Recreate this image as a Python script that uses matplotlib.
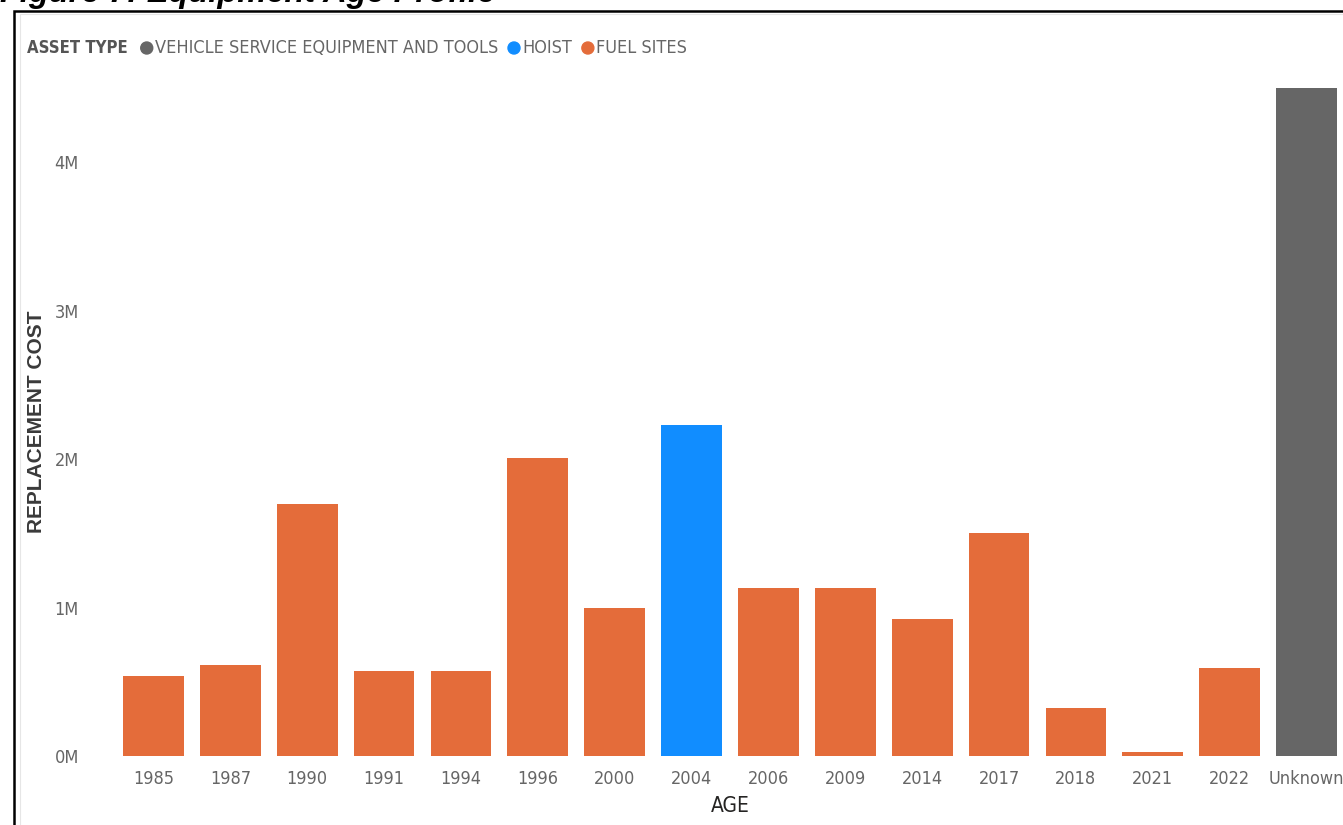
import matplotlib
matplotlib.use("Agg")
import matplotlib.pyplot as plt
from matplotlib import font_manager as fm
from matplotlib.patches import Rectangle, Ellipse
from matplotlib.ticker import FuncFormatter

# data
ages = ["1985", "1987", "1990", "1991", "1994", "1996", "2000", "2004",
        "2006", "2009", "2014", "2017", "2018", "2021", "2022", "Unknown"]
cost_m = [0.54, 0.61, 1.70, 0.57, 0.57, 2.01, 1.00, 2.23,
          1.13, 1.13, 0.92, 1.50, 0.32, 0.03, 0.59, 4.50]
asset_type = ["FUEL SITES"] * 7 + ["HOIST"] + ["FUEL SITES"] * 7 + ["VEHICLE SERVICE EQUIPMENT AND TOOLS"]

legend_order = ["VEHICLE SERVICE EQUIPMENT AND TOOLS", "HOIST", "FUEL SITES"]
COLORS = {"VEHICLE SERVICE EQUIPMENT AND TOOLS": "#666666",
          "HOIST": "#118DFF",
          "FUEL SITES": "#E46C3A"}


# Power BI uses a condensed face; look for one, otherwise shrink DejaVu a bit
def narrow_props():
    for f in fm.fontManager.ttflist:
        if ("Narrow" in f.name or "Condensed" in f.name
                or str(f.stretch) in ("condensed", "semi-condensed", "extra-condensed")):
            return dict(family=f.name, stretch=f.stretch), 1.0
    return dict(family="DejaVu Sans"), 0.84


NARROW, K = narrow_props()

W, H = 1343, 825
fig = plt.figure(figsize=(W / 100, H / 100), dpi=100)


def fx(px):
    return px / W


def fy(py):
    return 1 - py / H


# title, mostly cut off by the top edge
fig.text(fx(0), fy(2), "Figure 7: Equipment Age Profile", fontsize=23.5,
         fontweight="bold", fontstyle="italic", family="Liberation Sans",
         ha="left", va="baseline")

# outer black frame + faint inner card edge
fig.patches.append(Rectangle((fx(14), fy(830)), fx(1340), fy(11) - fy(830),
                             transform=fig.transFigure, fill=False,
                             edgecolor="black", linewidth=1.8))
fig.patches.append(Rectangle((fx(20), fy(830)), fx(1340), fy(14) - fy(830),
                             transform=fig.transFigure, fill=False,
                             edgecolor="#e6e6e6", linewidth=0.8))

ax = fig.add_axes([fx(115), fy(756), fx(1230), fy(73) - fy(756)])
x = list(range(len(ages)))
ax.bar(x, cost_m, width=0.79, color=[COLORS[t] for t in asset_type])

ax.set_xlim(-0.5, len(ages) - 0.5)
ax.set_ylim(0, 4.6)
ax.set_yticks([0, 1, 2, 3, 4])
ax.yaxis.set_major_formatter(FuncFormatter(lambda v, p: f"{int(v)}M"))
ax.set_xticks(x)
ax.set_xticklabels(ages)
for s in ax.spines.values():
    s.set_visible(False)
ax.tick_params(axis="both", length=0, colors="#666666", labelsize=13 * K)
ax.tick_params(axis="x", pad=10)
ax.tick_params(axis="y", pad=26)
for lab in ax.get_xticklabels() + ax.get_yticklabels():
    lab.set_fontproperties(fm.FontProperties(size=13 * K, **NARROW))

ax.set_xlabel("AGE", fontsize=15 * K, color="#252423", labelpad=6, **NARROW)
fig.text(fx(37), fy(422), "REPLACEMENT COST", rotation=90, fontsize=15,
         fontweight="bold", color="#3a3a3a", family="Liberation Sans",
         ha="center", va="center")

# legend row, laid out left to right from measured text widths
ly = fy(48)
renderer = fig.canvas.get_renderer()
t = fig.text(fx(27), ly, "ASSET TYPE", fontsize=12 * K, fontweight="bold",
             color="#555555", va="center", ha="left", **NARROW)
right = t.get_window_extent(renderer).x1
for i, name in enumerate(legend_order):
    cx = right + (19 if i == 0 else 16)
    fig.patches.append(Ellipse((fx(cx), ly), 12 / W, 12 / H,
                               transform=fig.transFigure, color=COLORS[name]))
    t = fig.text(fx(cx + 8), ly, name, fontsize=13 * K, color="#666666",
                 va="center", ha="left", **NARROW)
    right = t.get_window_extent(renderer).x1

fig.savefig("out.png", dpi=100)
